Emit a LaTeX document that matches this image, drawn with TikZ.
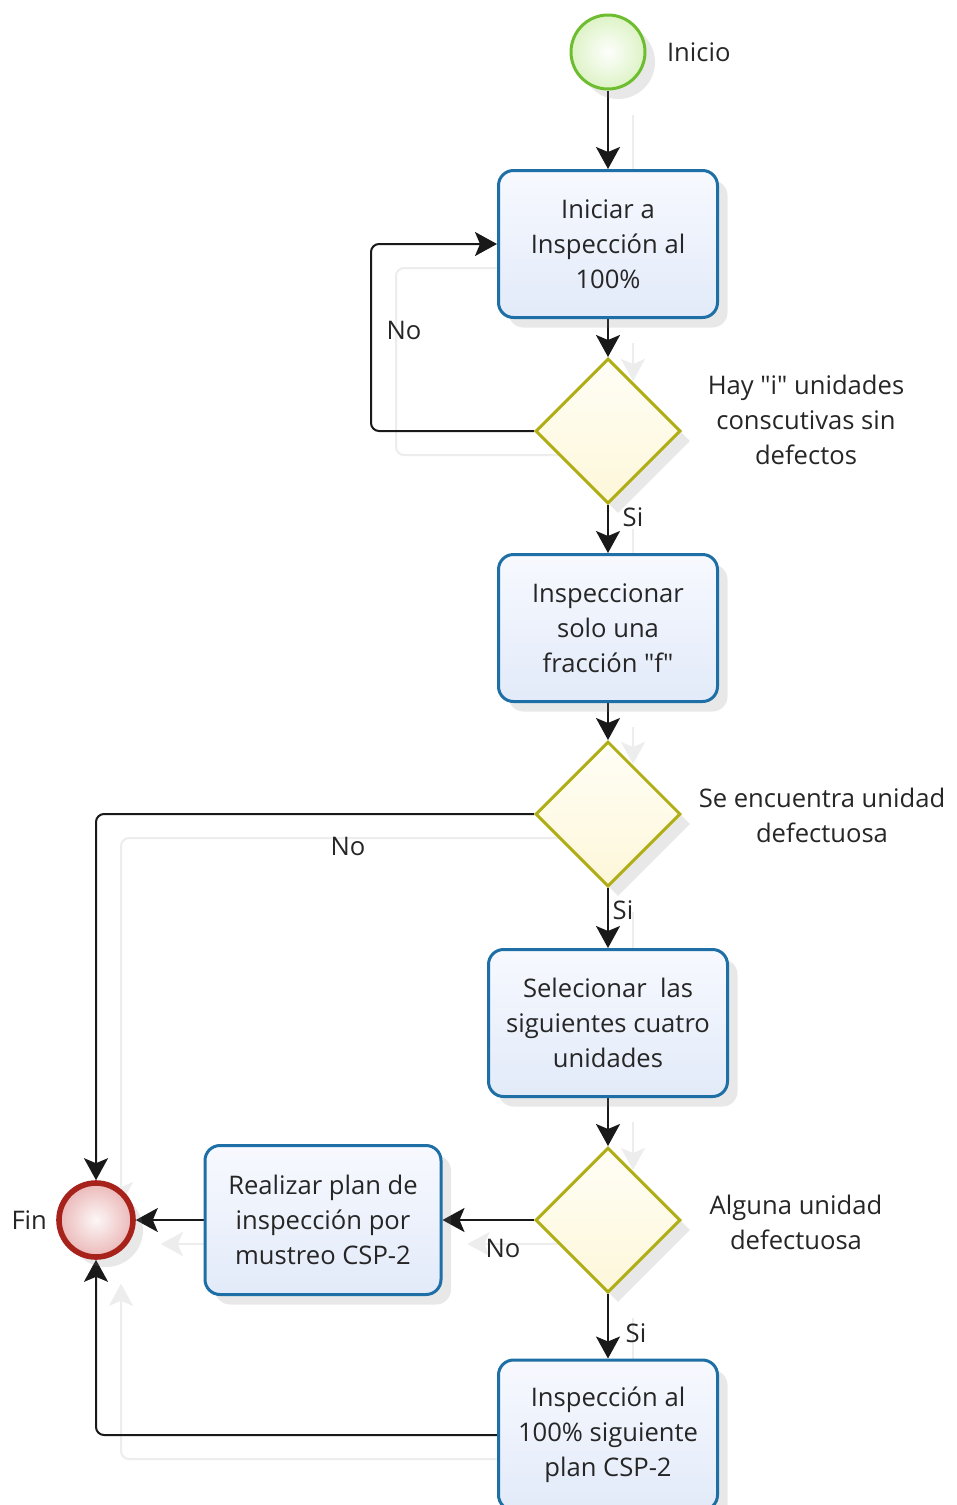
\documentclass[tikz,border=0pt]{standalone}
\usepackage{fontspec}
\setmainfont{Open Sans}
\usepackage{tikz}
\usetikzlibrary{arrows.meta,shapes.geometric,shadows,backgrounds}

\definecolor{boxline}{HTML}{1E6FA6}
\definecolor{boxtop}{HTML}{F7F9FE}
\definecolor{boxbot}{HTML}{E2EAF9}
\definecolor{decline}{HTML}{B0AE16}
\definecolor{dectop}{HTML}{FFFEF6}
\definecolor{decbot}{HTML}{FDF7D9}
\definecolor{startline}{HTML}{6DBE2F}
\definecolor{startfill}{HTML}{DDF3C6}
\definecolor{endline}{HTML}{A8221C}
\definecolor{endfill}{HTML}{EBB8B8}

\tikzset{
  txt/.style={font=\fontsize{12.8}{17.5}\selectfont, align=center, text=black!85},
  task/.style={txt, draw=boxline, line width=1.5pt, rounded corners=7.5pt,
    top color=boxtop, bottom color=boxbot, minimum width=109.5pt, minimum height=73.5pt,
    inner sep=2pt, drop shadow={shadow xshift=5pt, shadow yshift=-5pt, opacity=0.18}},
  gate/.style={diamond, draw=decline, line width=1.5pt, top color=dectop, bottom color=decbot,
    minimum width=72.5pt, minimum height=72.5pt, inner sep=0pt,
    drop shadow={shadow xshift=5pt, shadow yshift=-5pt, opacity=0.18}},
  event/.style={circle, minimum size=37pt, inner sep=0pt,
    drop shadow={shadow xshift=5pt, shadow yshift=-5pt, opacity=0.18}},
  conn/.style={draw=black!90, line width=1pt, ->, rounded corners=4pt,
    preaction={draw=black!7, line width=1pt, transform canvas={shift={(12.5pt,-12pt)}}}},
  lbl/.style={txt}
}

\begin{document}
\begin{tikzpicture}[x=0.5pt,y=-0.5pt,>={Stealth[width=12pt,length=11pt,inset=2.5pt]}]
\useasboundingbox (0,0) rectangle (957,1505);

% eventos
\node[event, draw=startline, line width=1.5pt, inner color=white!95!startfill, outer color=startfill] (inicio) at (608,52) {};
\node[lbl, anchor=west] (tinicio) at (660,52) {Inicio};
\node[event, draw=endline, line width=2.8pt, inner color=white!88!endfill, outer color=endfill] (fin) at (96,1220) {};
\node[lbl, anchor=east] (tfin) at (54,1220) {Fin};

% tareas
\node[task] (iniciar) at (608,244) {Iniciar a\\Inspección al\\100\%};
\node[task] (fraccion) at (608,628) {Inspeccionar\\solo una\\fracción \textquotedbl f\textquotedbl};
\node[task, minimum width=119.5pt] (selec) at (608,1023) {Selecionar\ \ las\\siguientes cuatro\\unidades};
\node[task, minimum width=118pt, minimum height=74.5pt] (csp) at (323,1220) {Realizar plan de\\inspección por\\mustreo CSP-2};
\node[task, minimum height=75pt] (total) at (608,1435) {Inspección al\\100\% siguiente\\plan CSP-2};

% decisiones
\node[gate] (hay) at (608,431) {};
\node[lbl] (thay) at (806,420) {Hay \textquotedbl i\textquotedbl\ unidades\\conscutivas sin\\defectos};
\node[gate] (encuentra) at (608,814) {};
\node[lbl] (tencuentra) at (822,815) {Se encuentra unidad\\defectuosa};
\node[gate] (alguna) at (608,1220) {};
\node[lbl] (talguna) at (796,1222) {Alguna unidad\\defectuosa};

% etiquetas
\node[lbl] (no1) at (404,330) {No};
\node[lbl] (si1) at (633,517) {Si};
\node[lbl] (no2) at (348,846) {No};
\node[lbl] (si2) at (623,910) {Si};
\node[lbl] (no3) at (503,1248) {No};
\node[lbl] (si3) at (636,1333) {Si};

% conectores
\begin{scope}[on background layer]
\fill[white] (0,0) rectangle (957,1505);
\draw[conn] (inicio) -- (iniciar);
\draw[conn] (iniciar) -- (hay);
\draw[conn] (hay.west) -- ++(-163,0) |- (iniciar.west);
\draw[conn] (hay) -- (fraccion);
\draw[conn] (fraccion) -- (encuentra);
\draw[conn] (encuentra.west) -| (fin.north);
\draw[conn] (encuentra) -- (selec);
\draw[conn] (selec) -- (alguna);
\draw[conn] (alguna.west) -- (csp.east);
\draw[conn] (csp) -- (fin);
\draw[conn] (alguna) -- (total);
\draw[conn] (total.west) -| (fin.south);
\end{scope}
\end{tikzpicture}
\end{document}
